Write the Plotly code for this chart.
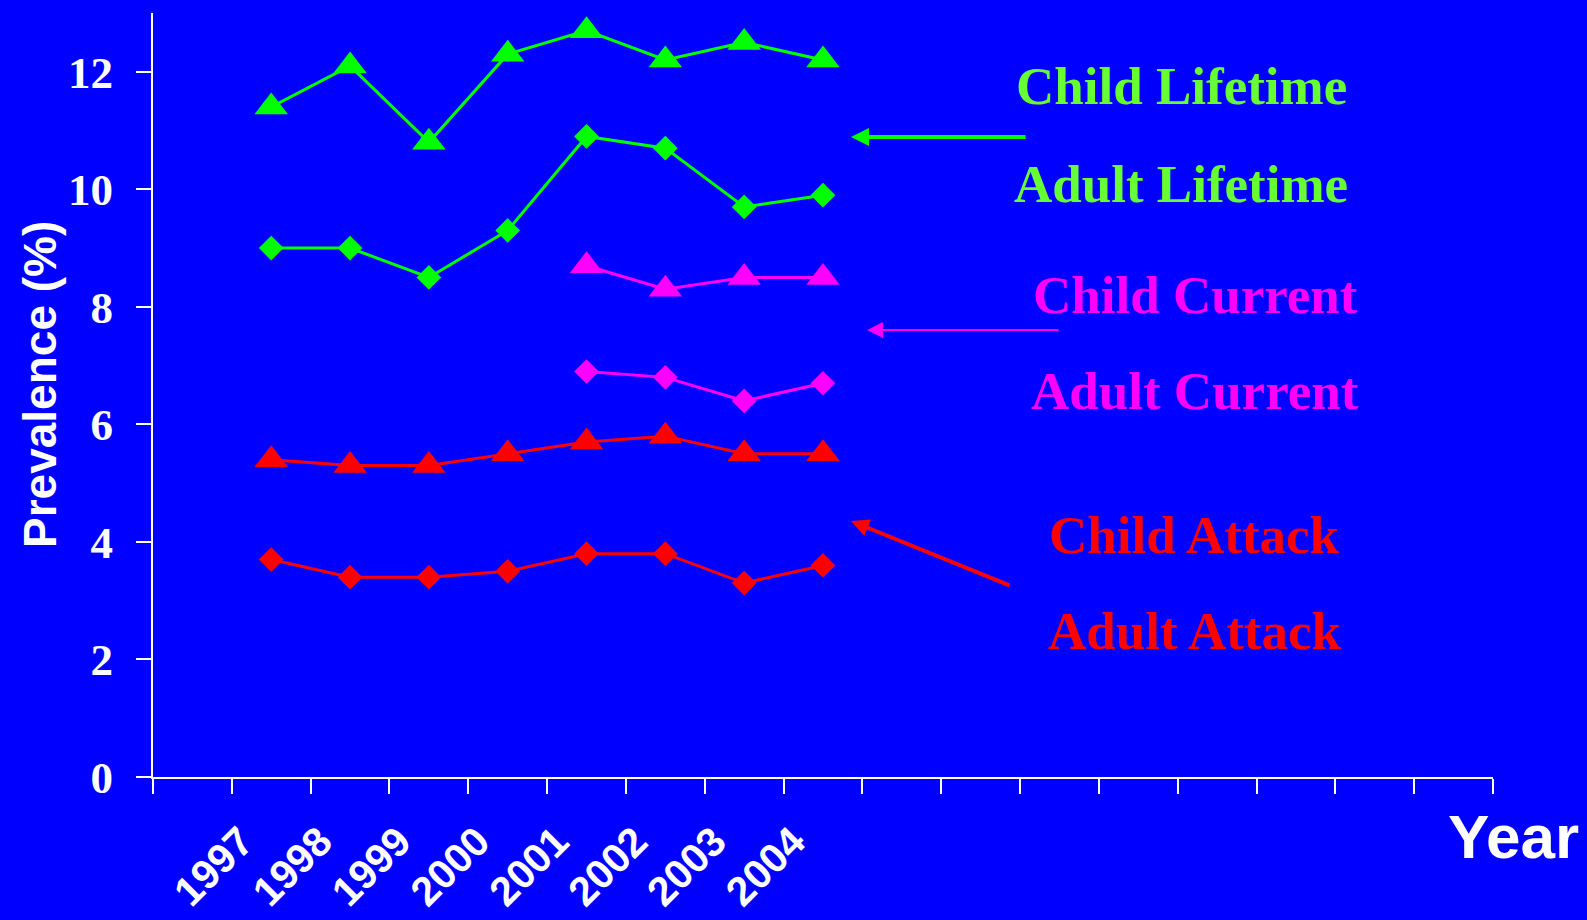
import plotly.graph_objects as go

# ---------------- data ----------------
years = ["1997", "1998", "1999", "2000", "2001", "2002", "2003", "2004"]
n_slots = 17          # number of category slots on the x axis
first_slot = 1        # slot index of 1997

child_lifetime = [11.4, 12.1, 10.8, 12.3, 12.7, 12.2, 12.5, 12.2]
adult_lifetime = [9.0, 9.0, 8.5, 9.3, 10.9, 10.7, 9.7, 9.9]
child_current = [None, None, None, None, 8.7, 8.3, 8.5, 8.5]
adult_current = [None, None, None, None, 6.9, 6.8, 6.4, 6.7]
child_attack = [5.4, 5.3, 5.3, 5.5, 5.7, 5.8, 5.5, 5.5]
adult_attack = [3.7, 3.4, 3.4, 3.5, 3.8, 3.8, 3.3, 3.6]

y_ticks = [0, 2, 4, 6, 8, 10, 12]
label_texts = ["Child Lifetime", "Adult Lifetime", "Child Current",
               "Adult Current", "Child Attack", "Adult Attack"]

# ---------------- styling / layout ----------------
W, H = 1587, 920
ML, MR, MT, MB = 153, 94, 13, 143
BLUE = "#0000FF"
GREEN = "#00FF00"
GREEN_TXT = "#66FF33"
MAGENTA = "#FF00FF"
RED = "#FF0000"

x_pos = [first_slot + i + 0.5 for i in range(len(years))]

def px2paper_x(px):
    return (px - ML) / (W - ML - MR)

def px2paper_y(py):
    return (H - MB - py) / (H - MT - MB)

fig = go.Figure()

series = [
    (child_lifetime, GREEN, "triangle-up", 29),
    (adult_lifetime, GREEN, "diamond", 19),
    (child_current, MAGENTA, "triangle-up", 29),
    (adult_current, MAGENTA, "diamond", 19),
    (child_attack, RED, "triangle-up", 29),
    (adult_attack, RED, "diamond", 19),
]
for vals, col, sym, sz in series:
    fig.add_trace(go.Scatter(
        x=x_pos, y=vals, mode="lines+markers",
        line=dict(color=col, width=3),
        marker=dict(symbol=sym, size=sz, color=col, line=dict(width=0)),
        showlegend=False, hoverinfo="skip", connectgaps=False,
    ))

# dummy trace for label axis
fig.add_trace(go.Scatter(x=[None], y=[None], xaxis="x2", showlegend=False, hoverinfo="skip"))

# ---------------- annotations ----------------
label_pos = [(1181, 86), (1181, 184), (1195, 295), (1195, 391), (1194, 535), (1195, 631)]
label_cols = [GREEN_TXT, GREEN_TXT, MAGENTA, MAGENTA, RED, RED]
annotations = []
for txt, (px, py), col in zip(label_texts, label_pos, label_cols):
    annotations.append(dict(
        text=txt, x=px2paper_x(px), y=px2paper_y(py), xref="paper", yref="paper",
        xanchor="center", yanchor="middle", showarrow=False,
        font=dict(family="Liberation Serif", size=53, color=col, weight="bold"),
    ))

arrows = [
    ((851, 137), (1027, 137), GREEN, 4, 0.9),
    ((867, 330), (1060, 330), MAGENTA, 2, 1.6),
    ((851, 521), (1011, 586), RED, 4, 0.9),
]
for (tx, ty), (sx, sy), col, w, asz in arrows:
    annotations.append(dict(
        text="", x=px2paper_x(tx), y=px2paper_y(ty), xref="paper", yref="paper",
        ax=sx - tx, ay=sy - ty, axref="pixel", ayref="pixel",
        showarrow=True, arrowhead=2, arrowsize=asz, arrowwidth=w, arrowcolor=col,
    ))

annotations.append(dict(
    text="Prevalence (%)", x=px2paper_x(40), y=px2paper_y(385), xref="paper", yref="paper",
    xanchor="center", yanchor="middle", textangle=-90, showarrow=False,
    font=dict(family="Liberation Sans", size=46, color="white", weight="bold"),
))
annotations.append(dict(
    text="Year", x=px2paper_x(1513), y=px2paper_y(836), xref="paper", yref="paper",
    xanchor="center", yanchor="middle", showarrow=False,
    font=dict(family="Liberation Sans", size=62, color="white", weight="bold"),
))

fig.update_layout(
    width=W, height=H,
    margin=dict(l=ML, r=MR, t=MT, b=MB, autoexpand=False),
    paper_bgcolor=BLUE, plot_bgcolor=BLUE,
    annotations=annotations,
    xaxis=dict(
        range=[0, n_slots], tickvals=list(range(n_slots + 1)), showticklabels=False,
        ticks="outside", ticklen=15, tickwidth=2, tickcolor="white",
        showline=True, linecolor="white", linewidth=2,
        showgrid=False, zeroline=False, automargin=False,
    ),
    xaxis2=dict(
        overlaying="x", anchor="y", side="bottom",
        range=[0, n_slots], tickvals=[p - 0.38 for p in x_pos], ticktext=years,
        tickangle=-45, ticks="", showline=False, showgrid=False, zeroline=False,
        ticklabelstandoff=31, automargin=False,
        tickfont=dict(family="Liberation Sans", size=41, color="white", weight="bold"),
    ),
    yaxis=dict(
        range=[0, 13], tickvals=y_ticks,
        ticks="outside", ticklen=15, tickwidth=2, tickcolor="white",
        showline=True, linecolor="white", linewidth=2,
        showgrid=False, zeroline=False, ticklabelstandoff=14, automargin=False,
        tickfont=dict(family="Liberation Serif", size=45, color="white", weight="bold"),
    ),
)

fig.write_html(
    "out.html",
    config={"displayModeBar": False},
    post_script="document.body.style.margin='0';document.body.style.background='#0000FF';",
)
